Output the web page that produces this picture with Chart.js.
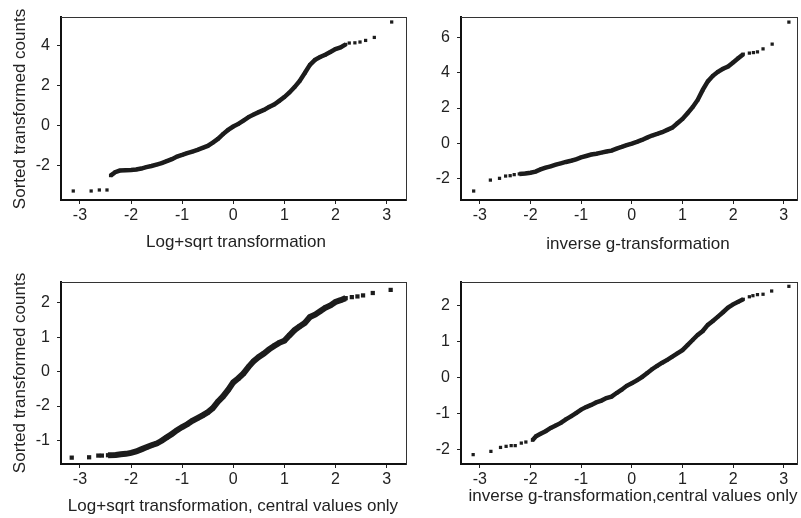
<!DOCTYPE html>
<html><head><meta charset="utf-8">
<script src="https://cdn.jsdelivr.net/npm/chart.js@4/dist/chart.umd.min.js"></script>
<style>
html,body{margin:0;padding:0;background:#fff;}
body{width:801px;height:518px;position:relative;overflow:hidden;font-family:"Liberation Sans",Arial,sans-serif;color:#222;}
canvas{position:absolute;}
.t{position:absolute;white-space:nowrap;line-height:1;font-size:17px;transform:translate(-50%,-50%);}
.yt{transform:translate(-50%,-50%) rotate(-90deg);}
</style></head><body>
<canvas id="c1" width="420" height="245" style="left:0px;top:0px"></canvas>
<canvas id="c2" width="401" height="245" style="left:400px;top:0px"></canvas>
<canvas id="c3" width="420" height="245" style="left:0px;top:260px"></canvas>
<canvas id="c4" width="401" height="245" style="left:400px;top:260px"></canvas>
<div class="t yt" style="left:19px;top:109px">Sorted transformed counts</div>
<div class="t yt" style="left:19px;top:373px">Sorted transformed counts</div>
<div class="t" style="left:236px;top:241px">Log+sqrt transformation</div>
<div class="t" style="left:638px;top:243px">inverse g-transformation</div>
<div class="t" style="left:233px;top:505px">Log+sqrt transformation, central values only</div>
<div class="t" style="left:633px;top:495px">inverse g-transformation,central values only</div>
<script>
// ---- tick labels ----
const xTickVals = [-3, -2, -1, 0, 1, 2, 3];
const xTickLabels = ['-3', '-2', '-1', '0', '1', '2', '3'];
const p1YTickVals = [-2, 0, 2, 4];
const p1YTickLabels = ['-2', '0', '2', '4'];
const p2YTickVals = [-2, 0, 2, 4, 6];
const p2YTickLabels = ['-2', '0', '2', '4', '6'];
const p3YTickVals = [2, 1, 0, -1, -2];
const p3YTickLabels = ['2', '1', '0', '-2', '-1'];
const p4YTickVals = [2, 1, 0, -1, -2];
const p4YTickLabels = ['2', '1', '0', '-1', '-2'];

// ---- Panel 1: Log+sqrt transformation ----
const p1LowQ = [-3.13, -2.78, -2.62, -2.47];
const p1LowV = [-3.27, -3.27, -3.22, -3.22];
const p1MidQ = [-2.40, -2.31, -2.22, -2.1, -2.0, -1.9, -1.8, -1.7, -1.6, -1.5, -1.4, -1.3, -1.2, -1.1, -1.0, -0.9, -0.8, -0.7, -0.6, -0.5, -0.4, -0.3, -0.2, -0.1, 0.0, 0.1, 0.2, 0.3, 0.4, 0.5, 0.6, 0.7, 0.8, 0.9, 1.0, 1.1, 1.2, 1.3, 1.4, 1.5, 1.6, 1.7, 1.8, 1.9, 2.0, 2.1, 2.2];
const p1MidV = [-2.50, -2.33, -2.25, -2.23, -2.22, -2.20, -2.15, -2.08, -2.02, -1.95, -1.88, -1.78, -1.68, -1.55, -1.47, -1.38, -1.30, -1.22, -1.12, -1.02, -0.85, -0.67, -0.43, -0.22, -0.05, 0.08, 0.25, 0.42, 0.55, 0.67, 0.78, 0.92, 1.05, 1.23, 1.42, 1.65, 1.92, 2.23, 2.62, 3.03, 3.28, 3.42, 3.53, 3.67, 3.82, 3.90, 4.05];
const p1HighQ = [2.27, 2.38, 2.48, 2.59, 2.76, 3.10];
const p1HighV = [4.12, 4.13, 4.17, 4.25, 4.40, 5.17];

// ---- Panel 2: inverse g-transformation ----
const p2LowQ = [-3.12, -2.79, -2.61, -2.49, -2.40, -2.32];
const p2LowV = [-2.71, -2.09, -1.99, -1.86, -1.84, -1.78];
const p2MidQ = [-2.22, -2.1, -2.0, -1.9, -1.8, -1.7, -1.6, -1.5, -1.4, -1.3, -1.2, -1.1, -1.0, -0.9, -0.8, -0.7, -0.6, -0.5, -0.4, -0.3, -0.2, -0.1, 0.0, 0.1, 0.2, 0.3, 0.4, 0.5, 0.6, 0.7, 0.8, 0.9, 1.0, 1.1, 1.2, 1.3, 1.4, 1.5, 1.6, 1.7, 1.8, 1.9, 2.0, 2.1, 2.2];
const p2MidV = [-1.74, -1.71, -1.67, -1.61, -1.48, -1.38, -1.31, -1.21, -1.14, -1.06, -0.99, -0.91, -0.80, -0.72, -0.64, -0.59, -0.53, -0.47, -0.42, -0.30, -0.21, -0.11, -0.02, 0.08, 0.19, 0.32, 0.44, 0.53, 0.63, 0.76, 0.89, 1.14, 1.38, 1.71, 2.05, 2.46, 3.03, 3.51, 3.83, 4.06, 4.23, 4.36, 4.59, 4.83, 5.06];
const p2HighQ = [2.32, 2.40, 2.48, 2.59, 2.77, 3.10];
const p2HighV = [5.12, 5.15, 5.19, 5.36, 5.63, 6.88];

// ---- Panel 3: Log+sqrt, central values only (y in tick-position units) ----
const p3LowQ = [-3.16, -2.82, -2.64, -2.57];
const p3LowV = [-2.50, -2.49, -2.44, -2.44];
const p3MidQ = [-2.45, -2.3, -2.2, -2.1, -2.0, -1.9, -1.8, -1.7, -1.6, -1.5, -1.4, -1.3, -1.2, -1.1, -1.0, -0.9, -0.8, -0.7, -0.6, -0.5, -0.4, -0.3, -0.2, -0.1, 0.0, 0.1, 0.2, 0.3, 0.4, 0.5, 0.6, 0.7, 0.8, 0.9, 1.0, 1.1, 1.2, 1.3, 1.4, 1.5, 1.6, 1.7, 1.8, 1.9, 2.0, 2.1, 2.2];
const p3MidV = [-2.43, -2.42, -2.40, -2.39, -2.36, -2.32, -2.26, -2.20, -2.14, -2.09, -2.01, -1.91, -1.81, -1.70, -1.61, -1.53, -1.43, -1.35, -1.27, -1.18, -1.06, -0.87, -0.72, -0.53, -0.31, -0.19, -0.05, 0.14, 0.31, 0.43, 0.53, 0.65, 0.75, 0.84, 0.90, 1.06, 1.21, 1.32, 1.42, 1.59, 1.66, 1.76, 1.86, 1.93, 2.03, 2.08, 2.14];
const p3HighQ = [2.32, 2.43, 2.54, 2.73, 3.08];
const p3HighV = [2.17, 2.19, 2.22, 2.29, 2.38];

// ---- Panel 4: inverse g, central values only ----
const p4LowQ = [-3.13, -2.78, -2.59, -2.48, -2.38, -2.30, -2.18, -2.09];
const p4LowV = [-2.13, -2.04, -1.93, -1.90, -1.88, -1.88, -1.81, -1.78];
const p4MidQ = [-1.96, -1.89, -1.8, -1.7, -1.6, -1.5, -1.4, -1.3, -1.2, -1.1, -1.0, -0.9, -0.8, -0.7, -0.6, -0.5, -0.4, -0.3, -0.2, -0.1, 0.0, 0.1, 0.2, 0.3, 0.4, 0.5, 0.6, 0.7, 0.8, 0.9, 1.0, 1.1, 1.2, 1.3, 1.4, 1.5, 1.6, 1.7, 1.8, 1.9, 2.0, 2.1, 2.2];
const p4MidV = [-1.73, -1.62, -1.55, -1.48, -1.39, -1.32, -1.25, -1.15, -1.07, -0.98, -0.88, -0.81, -0.75, -0.68, -0.63, -0.56, -0.52, -0.42, -0.33, -0.22, -0.15, -0.07, 0.02, 0.13, 0.24, 0.33, 0.42, 0.50, 0.59, 0.68, 0.77, 0.91, 1.05, 1.19, 1.30, 1.47, 1.58, 1.70, 1.82, 1.95, 2.04, 2.11, 2.18];
const p4HighQ = [2.32, 2.39, 2.48, 2.59, 2.76, 3.10];
const p4HighV = [2.25, 2.28, 2.31, 2.32, 2.41, 2.54];

const INK = '#1c1c1c';
const FONT = {family: '"Liberation Sans", Arial, sans-serif', size: 16};

function pts(q, v) { return q.map((x, i) => ({x: x, y: v[i]})); }

// an axis used only for its border line (top / right edges of the box)
function edgeAxis(position, min, max, horizontal) {
  return {type: 'linear', position: position, min: min, max: max, display: true,
    afterBuildTicks: s => { s.ticks = []; },
    afterFit: s => { if (horizontal) s.height = 0; else s.width = 0; },
    ticks: {display: false},
    grid: {display: true, drawOnChartArea: false, drawTicks: false},
    border: {display: true, color: '#333', width: 1}};
}

function panel(id, p) {
  new Chart(document.getElementById(id), {
    type: 'scatter',
    data: {datasets: [
      {data: pts(p.midQ, p.midV), showLine: true, borderColor: INK, borderWidth: p.band,
       backgroundColor: INK, pointStyle: 'rect', pointRadius: p.r, pointBorderWidth: 0, tension: 0,
       xAxisID: 'x', yAxisID: 'y'},
      {data: pts(p.lowQ, p.lowV).concat(pts(p.highQ, p.highV)), showLine: false,
       backgroundColor: INK, pointStyle: 'rect', pointRadius: p.r, pointBorderWidth: 0,
       xAxisID: 'x', yAxisID: 'y'}
    ]},
    options: {
      responsive: false, animation: false, devicePixelRatio: 1,
      layout: {padding: {left: 0, top: p.top, right: p.right, bottom: 0}},
      plugins: {legend: {display: false}, tooltip: {enabled: false}},
      scales: {
        x: {type: 'linear', position: 'bottom', min: p.xmin, max: p.xmax,
          afterBuildTicks: s => { s.ticks = xTickVals.map(v => ({value: v})); },
          afterFit: s => { s.height = p.xh; },
          ticks: {callback: (v, i) => xTickLabels[i], font: FONT, color: '#222', padding: 2, maxRotation: 0, autoSkip: false},
          grid: {drawOnChartArea: false, tickLength: 4, color: '#222', tickWidth: 1},
          border: {color: '#111', width: 2}},
        y: {type: 'linear', position: 'left', min: p.ymin, max: p.ymax,
          afterBuildTicks: s => { s.ticks = p.yVals.map(v => ({value: v})); },
          afterFit: s => { s.width = 61; },
          ticks: {callback: (v, i) => p.yLabels[i], font: FONT, color: '#222', padding: 7, autoSkip: false},
          grid: {drawOnChartArea: false, tickLength: 4, color: '#222', tickWidth: 1},
          border: {color: '#111', width: 2}},
        xTop: edgeAxis('top', p.xmin, p.xmax, true),
        yRight: edgeAxis('right', p.ymin, p.ymax, false)
      }
    }
  });
}

panel('c1', {lowQ: p1LowQ, lowV: p1LowV, midQ: p1MidQ, midV: p1MidV, highQ: p1HighQ, highV: p1HighV,
  yVals: p1YTickVals, yLabels: p1YTickLabels, xmin: -3.37, xmax: 3.38, ymin: -3.72, ymax: 5.42,
  top: 17, right: 14, xh: 45, r: 2.3, band: 4.5});
panel('c2', {lowQ: p2LowQ, lowV: p2LowV, midQ: p2MidQ, midV: p2MidV, highQ: p2HighQ, highV: p2HighV,
  yVals: p2YTickVals, yLabels: p2YTickLabels, xmin: -3.37, xmax: 3.26, ymin: -3.22, ymax: 7.17,
  top: 17, right: 1, xh: 45, r: 2.3, band: 4.5});
panel('c3', {lowQ: p3LowQ, lowV: p3LowV, midQ: p3MidQ, midV: p3MidV, highQ: p3HighQ, highV: p3HighV,
  yVals: p3YTickVals, yLabels: p3YTickLabels, xmin: -3.37, xmax: 3.38, ymin: -2.685, ymax: 2.61,
  top: 22, right: 14, xh: 41, r: 3, band: 6});
panel('c4', {lowQ: p4LowQ, lowV: p4LowV, midQ: p4MidQ, midV: p4MidV, highQ: p4HighQ, highV: p4HighV,
  yVals: p4YTickVals, yLabels: p4YTickLabels, xmin: -3.37, xmax: 3.26, ymin: -2.39, ymax: 2.66,
  top: 22, right: 1, xh: 41, r: 2.3, band: 4.5});
</script>
</body></html>
